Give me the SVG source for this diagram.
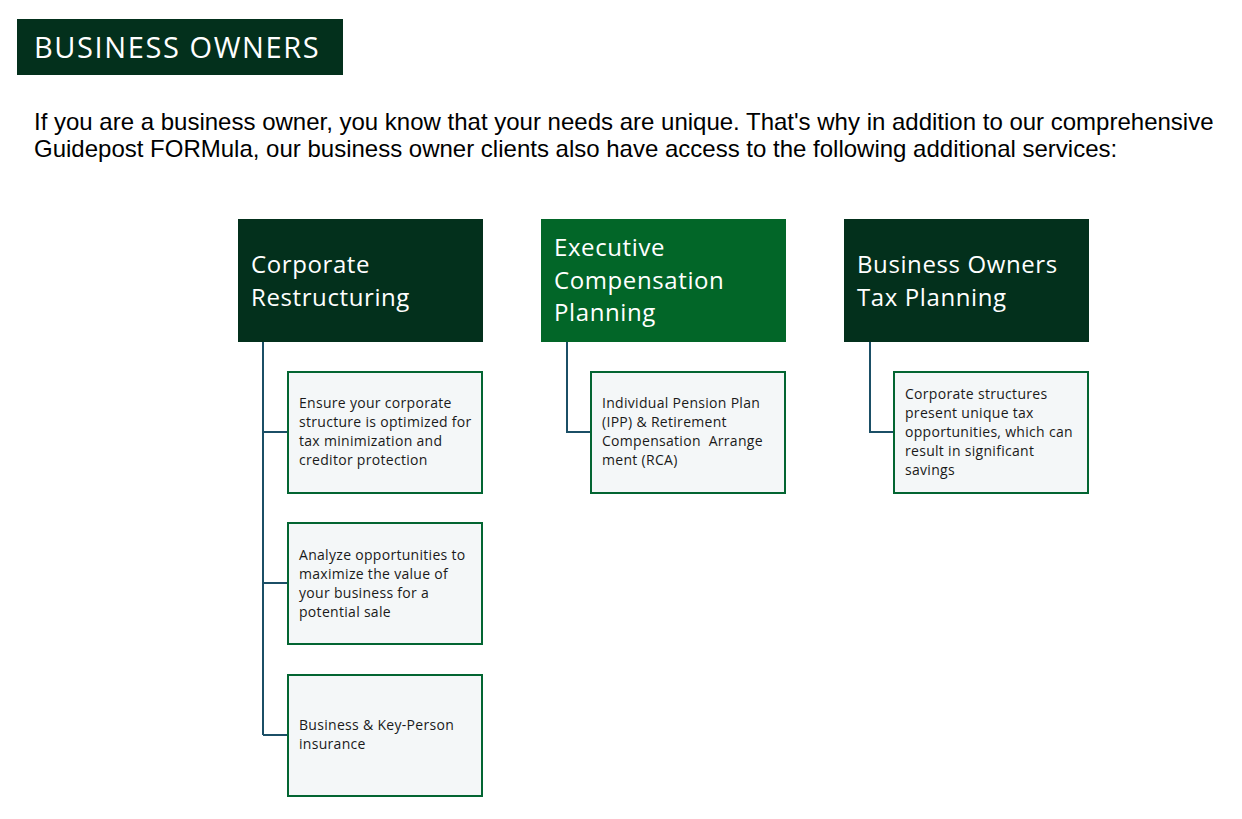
<svg xmlns="http://www.w3.org/2000/svg" width="1242" height="819" viewBox="0 0 1242 819">
<style>
.hd{font-family:"Open Sans","Noto Sans",sans-serif;font-size:24px;letter-spacing:0.6px;fill:#ffffff}
.ct{font-family:"Open Sans","Noto Sans",sans-serif;font-size:14px;letter-spacing:0.3px;fill:#1a1a1a}
.cb{fill:#f4f7f8;stroke:#036532;stroke-width:2}
.cn{fill:none;stroke:#1b4f66;stroke-width:2}
.para{font-family:"Liberation Sans",Arial,sans-serif;font-size:24px;fill:#000}
</style>
<rect width="1242" height="819" fill="#ffffff"/>
<g id="title">
<rect x="17" y="19" width="326" height="56" fill="#03301c"/>
<text x="34" y="58" font-family="Open Sans,Noto Sans,sans-serif" font-size="29" letter-spacing="1.6" fill="#ffffff">BUSINESS OWNERS</text>
</g>
<g id="intro">
<text class="para" x="34" y="130">If you are a business owner, you know that your needs are unique. That's why in addition to our comprehensive</text>
<text class="para" x="34" y="157">Guidepost FORMula, our business owner clients also have access to the following additional services:</text>
</g>
<g id="connectors">
<path class="cn" d="M263 342 V735 M263 432 H288 M263 583 H288 M263 735 H288"/>
<path class="cn" d="M567 342 V432 H591"/>
<path class="cn" d="M870 342 V432 H894"/>
</g>
<g id="corporate-restructuring">
<rect x="238" y="219" width="245" height="123" fill="#03301c"/>
<text class="hd" x="251" y="273">Corporate</text>
<text class="hd" x="251" y="306">Restructuring</text>
</g>
<g id="executive-compensation">
<rect x="541" y="219" width="245" height="123" fill="#026628"/>
<text class="hd" x="554" y="256">Executive</text>
<text class="hd" x="554" y="289">Compensation</text>
<text class="hd" x="554" y="321">Planning</text>
</g>
<g id="tax-planning">
<rect x="844" y="219" width="245" height="123" fill="#03301c"/>
<text class="hd" x="857" y="273">Business Owners</text>
<text class="hd" x="857" y="306">Tax Planning</text>
</g>
<g id="cr-1">
<rect class="cb" x="288" y="372" width="194" height="121"/>
<text class="ct" x="299" y="408">Ensure your corporate</text>
<text class="ct" x="299" y="427">structure is optimized for</text>
<text class="ct" x="299" y="446">tax minimization and</text>
<text class="ct" x="299" y="465">creditor protection</text>
</g>
<g id="cr-2">
<rect class="cb" x="288" y="523" width="194" height="121"/>
<text class="ct" x="299" y="560">Analyze opportunities to</text>
<text class="ct" x="299" y="579">maximize the value of</text>
<text class="ct" x="299" y="598">your business for a</text>
<text class="ct" x="299" y="617">potential sale</text>
</g>
<g id="cr-3">
<rect class="cb" x="288" y="675" width="194" height="121"/>
<text class="ct" x="299" y="730">Business &amp; Key-Person</text>
<text class="ct" x="299" y="749">insurance</text>
</g>
<g id="ec-1">
<rect class="cb" x="591" y="372" width="194" height="121"/>
<text class="ct" x="602" y="408">Individual Pension Plan</text>
<text class="ct" x="602" y="427">(IPP) &amp; Retirement</text>
<text class="ct" x="602" y="446" xml:space="preserve">Compensation  Arrange</text>
<text class="ct" x="602" y="465">ment (RCA)</text>
</g>
<g id="tp-1">
<rect class="cb" x="894" y="372" width="194" height="121"/>
<text class="ct" x="905" y="399">Corporate structures</text>
<text class="ct" x="905" y="418">present unique tax</text>
<text class="ct" x="905" y="437">opportunities, which can</text>
<text class="ct" x="905" y="456">result in significant</text>
<text class="ct" x="905" y="475">savings</text>
</g>
</svg>
